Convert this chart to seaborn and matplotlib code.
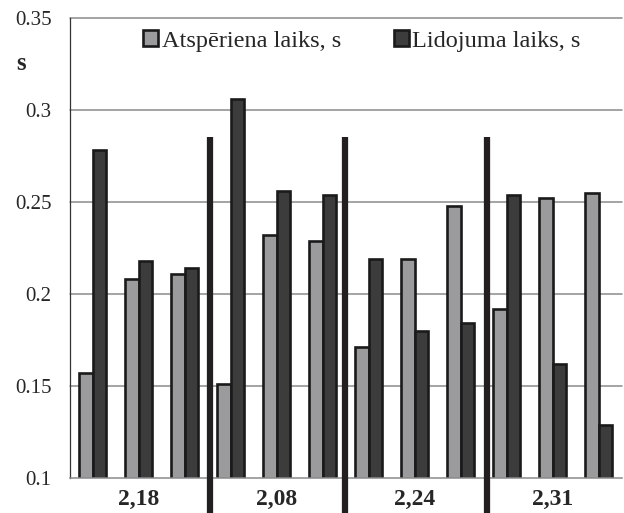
import matplotlib
matplotlib.use("Agg")
import matplotlib.pyplot as plt
import pandas as pd
import seaborn as sns

# groups of three trials each
groups = ["2,18", "2,08", "2,24", "2,31"]
series = ["Atspēriena laiks, s", "Lidojuma laiks, s"]
atsperiena = [0.157, 0.208, 0.211, 0.151, 0.232, 0.229,
              0.171, 0.219, 0.248, 0.192, 0.252, 0.255]
lidojuma = [0.278, 0.218, 0.214, 0.306, 0.256, 0.254,
            0.219, 0.180, 0.184, 0.254, 0.162, 0.129]
yticks = [0.1, 0.15, 0.2, 0.25, 0.3, 0.35]
ytick_labels = ["0.1", "0.15", "0.2", "0.25", "0.3", "0.35"]

COLORS = {series[0]: "#9a9b9f", series[1]: "#3c3c3c"}

sns.set_theme(style="white")
plt.rcParams["font.family"] = ["Liberation Serif", "DejaVu Serif"]

n = len(atsperiena)
cats = [str(i) for i in range(n)]
df = pd.DataFrame({
    "cat": cats * 2,
    "series": [series[0]] * n + [series[1]] * n,
    "value": atsperiena + lidojuma,
})

fig = plt.figure(figsize=(6.24, 5.13), dpi=100)
ax = fig.add_axes([0.1114, 0.0682, 0.8846, 0.8968])

sns.barplot(data=df, x="cat", y="value", hue="series", order=cats,
            palette=COLORS, width=0.6, edgecolor="#1a1a1a", linewidth=1.9,
            errorbar=None, ax=ax)

ax.set_ylim(0.1, 0.35)
ax.set_xlim(-0.5, n - 0.5)
ax.set_yticks(yticks)
ax.set_yticklabels(ytick_labels, fontsize=15)
ax.tick_params(axis="y", length=0, pad=13)
ax.set_xticks([])
ax.set_xlabel("")
ax.set_ylabel("")
for y in yticks[1:]:
    ax.axhline(y, color="#8a8a8a", lw=1.1, zorder=0, clip_on=False)

for s in ["top", "right"]:
    ax.spines[s].set_visible(False)
ax.spines["left"].set_color("#333333")
ax.spines["left"].set_linewidth(0.9)
ax.spines["bottom"].set_color("#8a8a8a")
ax.spines["bottom"].set_linewidth(1.1)

# thick separators between groups
for x in [2.55, 5.49, 8.57]:
    ax.plot([x, x], [0.079, 0.2853], color="#231f20", lw=4.5,
            solid_capstyle="butt", clip_on=False, zorder=5)

# group labels
for i, g in enumerate(groups):
    ax.text(3 * i + 1, 0.0885, g, ha="center", va="center",
            fontsize=17, fontweight="bold")

ax.text(-0.087, 0.902, "s", transform=ax.transAxes, ha="center",
        va="center", fontsize=18, fontweight="bold")

ax.legend(loc="upper center", bbox_to_anchor=(0.53, 1.005), ncol=2,
          frameon=False, fontsize=17.5, handlelength=0.6, handleheight=0.6,
          handletextpad=0.15, columnspacing=2.2, borderaxespad=0.2)

fig.savefig("out.png", dpi=100)
